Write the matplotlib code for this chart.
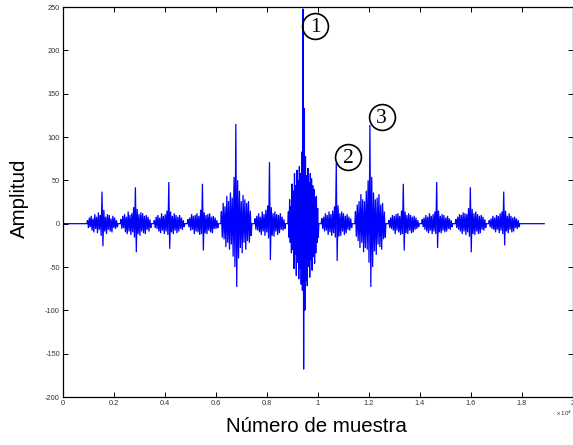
import numpy as np
import matplotlib
matplotlib.use("Agg")
import matplotlib.pyplot as plt
from matplotlib.ticker import FuncFormatter, FixedLocator

# ---------------- data ----------------
burst_centers = [1560, 2870, 4180, 5500, 6810, 8130, 9440,
                 10750, 12070, 13380, 14690, 16010, 17320]
burst_halfwidth = 585
signal_end = 18890

B01 = [4, -5, 7, -4, 9, -8, 6, -10, 11, -6, 8, -11, 13, -7, 10, -14, 37, -26,
       16, -9, 8, -12, 11, -7, 10, -9, 6, -10, 9, -5, 7, -6, 4, -4]
B02 = [5, -6, 9, -5, 11, -10, 8, -12, 14, -9, 10, -13, 12, -10, 19, -16, 42, -33,
       17, -12, 11, -14, 13, -9, 12, -11, 9, -12, 10, -7, 8, -9, 5, -5]
B03 = [4, -5, 8, -6, 10, -9, 7, -11, 12, -8, 9, -12, 11, -9, 15, -13, 48, -29,
       14, -10, 9, -12, 12, -8, 10, -11, 8, -9, 10, -6, 7, -7, 4, -4]
B04 = [5, -4, 7, -8, 11, -7, 9, -12, 10, -9, 12, -10, 9, -13, 16, -12, 46, -31,
       13, -11, 10, -12, 11, -8, 12, -10, 8, -11, 9, -6, 7, -6, 4, -5]
B05 = [14, -16, 24, -18, 20, -27, 32, -22, 26, -30, 36, -24, 30, -38, 54, -50, 115, -73,
       50, -40, 38, -28, 26, -34, 33, -22, 28, -30, 24, -20, 26, -22, 15, -14]
B06 = [6, -7, 9, -8, 12, -10, 8, -13, 14, -9, 11, -14, 16, -10, 21, -17, 71, -42,
       19, -14, 12, -15, 14, -9, 11, -13, 10, -11, 12, -7, 8, -8, 5, -6]
B07 = [14, -16, 28, -22, 20, -34, 46, -30, 38, -52, 58, -36, 44, -60, 62, -45,
       50, -64, 66, -52, 58, -70, 83, -77, 248, -168, 133, -100,
       78, -66, 56, -72, 64, -50, 48, -62, 58, -42, 52, -54, 44, -38, 40, -46,
       30, -34, 32, -22, 18, -16]
B08 = [6, -6, 8, -9, 12, -8, 10, -13, 14, -10, 11, -14, 15, -11, 20, -16, 70, -43,
       21, -15, 12, -14, 14, -9, 12, -13, 9, -11, 11, -7, 8, -8, 6, -5]
B09 = [14, -15, 22, -20, 26, -28, 34, -22, 28, -33, 26, -28, 38, -30, 50, -45, 114, -73,
       54, -50, 36, -32, 28, -36, 30, -24, 34, -27, 22, -30, 24, -18, 14, -16]
B10 = [4, -5, 7, -6, 10, -8, 9, -12, 11, -8, 12, -10, 9, -13, 15, -12, 46, -31,
       14, -11, 10, -12, 12, -8, 10, -11, 8, -10, 9, -7, 7, -6, 4, -4]
B11 = [5, -4, 7, -7, 10, -9, 8, -11, 12, -8, 9, -12, 11, -9, 14, -12, 48, -28,
       15, -10, 9, -11, 11, -8, 10, -10, 7, -9, 9, -6, 6, -7, 4, -4]
B12 = [5, -5, 8, -7, 11, -9, 10, -12, 13, -9, 12, -13, 11, -10, 18, -15, 42, -33,
       17, -12, 12, -13, 14, -9, 11, -12, 9, -11, 10, -7, 8, -8, 5, -5]
B13 = [4, -4, 6, -6, 9, -7, 7, -10, 10, -7, 9, -11, 12, -8, 14, -12, 37, -25,
       15, -9, 9, -11, 12, -7, 9, -10, 7, -9, 8, -5, 6, -6, 4, -4]
bursts = [B01, B02, B03, B04, B05, B06, B07, B08, B09, B10, B11, B12, B13]

y_ticks = [-200, -150, -100, -50, 0, 50, 100, 150, 200, 250]
x_ticks = [0, 2000, 4000, 6000, 8000, 10000, 12000, 14000, 16000, 18000, 20000]

ann_labels = ["1", "2", "3"]
ann_x = [9900, 11200, 12515]
ann_y = [228, 77, 123]

# ---------------- build trace ----------------
xs = [0.0]
ys = [0.0]
for c, vals in zip(burst_centers, bursts):
    n = len(vals)
    px = np.linspace(c - burst_halfwidth, c + burst_halfwidth, n)
    xs.append(c - burst_halfwidth - 25)
    ys.append(0.0)
    xs.extend(px.tolist())
    ys.extend(vals)
    xs.append(c + burst_halfwidth + 25)
    ys.append(0.0)
xs.append(signal_end)
ys.append(0.0)

# ---------------- figure ----------------
W, H = 573, 445
fig = plt.figure(figsize=(W / 100, H / 100), dpi=100)
ax = fig.add_axes([62.7 / W, 48 / H, (572.5 - 62.7) / W, 390 / H])

ax.plot(xs, ys, color="#0000ff", lw=0.9, solid_joinstyle="miter")

ax.set_xlim(0, 20000)
ax.set_ylim(-200, 250)
ax.xaxis.set_major_locator(FixedLocator(x_ticks))
ax.yaxis.set_major_locator(FixedLocator(y_ticks))
ax.xaxis.set_major_formatter(FuncFormatter(lambda v, p: "%g" % (v / 1e4)))
ax.yaxis.set_major_formatter(FuncFormatter(lambda v, p: "%g" % v))

for s in ax.spines.values():
    s.set_linewidth(0.9)
    s.set_color("black")

ax.tick_params(direction="in", length=3.6, width=0.7, top=True, right=True,
               labelsize=5.3, pad=2, colors="black")
for lab in ax.get_xticklabels() + ax.get_yticklabels():
    lab.set_fontfamily("Liberation Sans")
    lab.set_color("#333333")

ax.set_xlabel("Número de muestra", fontsize=14.8, family="Liberation Sans")
ax.set_ylabel("Amplitud", fontsize=14.8, family="Liberation Sans")
ax.xaxis.set_label_coords(0.497, -0.052)
ax.yaxis.set_label_coords(-0.067, 0.51)

fig.text(556 / W, 1 - 416 / H, "x 10$^4$", fontsize=4.5, family="Liberation Sans",
         color="#333333", ha="left", va="baseline")

ax.plot(ann_x, ann_y, "o", ms=18.6, mfc="none", mec="black", mew=1.2, clip_on=False)
for t, x, y in zip(ann_labels, ann_x, ann_y):
    ax.text(x, y - 1.5, t, ha="center", va="center", fontsize=15.5,
            family="Liberation Serif", color="black")

fig.savefig("out.png", dpi=100)
